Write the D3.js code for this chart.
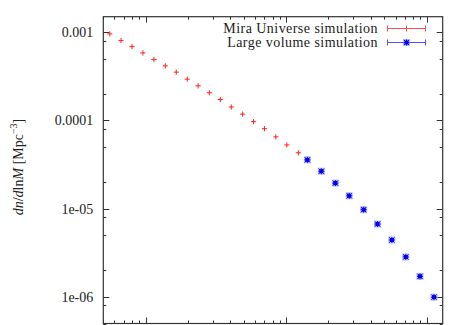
<!DOCTYPE html>
<html><head><meta charset="utf-8">
<script src="https://cdn.jsdelivr.net/npm/d3@7"></script>
<style>body{margin:0;background:#fff}svg{display:block}svg text{font-family:"Liberation Serif","DejaVu Serif",serif !important;fill:#222}</style>
</head><body>
<script>
// Mira Universe simulation (mass, dn/dlnM)
const miraMass = [5.56e12,6.68e12,8.0e12,9.57e12,1.146e13,1.38e13,1.652e13,1.977e13,2.366e13,2.84e13,3.40e13,4.07e13,4.90e13,5.86e13,7.01e13,8.45e13,1.012e14,1.222e14];
const miraDn   = [9.57e-4,8.04e-4,6.87e-4,5.83e-4,4.90e-4,4.16e-4,3.53e-4,2.94e-4,2.47e-4,2.06e-4,1.73e-4,1.42e-4,1.18e-4,9.69e-5,8.07e-5,6.52e-5,5.28e-5,4.30e-5];
// Large volume simulation
const largeMass = [1.416e14,1.78e14,2.24e14,2.81e14,3.56e14,4.47e14,5.65e14,7.10e14,8.96e14,1.127e15];
const largeDn   = [3.58e-5,2.66e-5,1.95e-5,1.40e-5,9.75e-6,6.70e-6,4.42e-6,2.84e-6,1.71e-6,9.95e-7];
const seriesNames = ["Mira Universe simulation","Large volume simulation"];
const yTickValues = [1e-3,1e-4,1e-5,1e-6];
const yTickLabels = ["0.001","0.0001","1e-05","1e-06"];
const xDomain = [5e12,1.3e15];
const yDomain = [1.5e-3,5e-7];

const W=464,H=325;
const L=103.3,R=442.7,T=16.7,B=323.5;
const svg=d3.select("body").append("svg").attr("width",W).attr("height",H);
const x=d3.scaleLog().domain(xDomain).range([L,R]);
const y=d3.scaleLog().domain(yDomain).range([T,B]);

// ticks
const xMajor=[],xMinor=[];
for(let e=12;e<=15;e++)for(let m=1;m<=9;m++){const v=m*Math.pow(10,e);if(v>=xDomain[0]&&v<=xDomain[1])(m===1?xMajor:xMinor).push(v);}
const yMinor=[];
for(let e=-7;e<=-3;e++)for(const m of [2,5,8]){const v=m*Math.pow(10,e);if(v<=yDomain[0]&&v>=yDomain[1])yMinor.push(v);}

const axStroke="#333";
const g=svg.append("g").attr("stroke",axStroke).attr("stroke-width",1);
function xt(vals,len){vals.forEach(v=>{const px=Math.round(x(v))+0.5;
  g.append("line").attr("x1",px).attr("x2",px).attr("y1",B).attr("y2",B-len);
  g.append("line").attr("x1",px).attr("x2",px).attr("y1",T).attr("y2",T+len);});}
function yt(vals,len){vals.forEach(v=>{const py=Math.round(y(v))+0.5;
  g.append("line").attr("x1",L).attr("x2",L+len).attr("y1",py).attr("y2",py);
  g.append("line").attr("x1",R).attr("x2",R-len).attr("y1",py).attr("y2",py);});}
xt(xMajor,6);xt(xMinor,3);yt(yTickValues,6);yt(yMinor,3);

// y axis labels via d3 axis (ticks hidden)
const yAxis=d3.axisLeft(y).tickValues(yTickValues).tickFormat((d,i)=>yTickLabels[i]).tickSize(0).tickPadding(10);
const ya=svg.append("g").attr("transform",`translate(${L},0)`).call(yAxis).attr("font-family",null);
ya.select(".domain").remove();
ya.selectAll("text").attr("font-size",14).style("font-family","'Liberation Serif', serif").attr("fill","#222");

// frame
svg.append("rect").attr("x",L).attr("y",T).attr("width",R-L).attr("height",B-T)
  .attr("fill","none").attr("stroke",axStroke).attr("stroke-width",1.2);

// Mira points: red plus
const red="#ff2020", blue="#1010ff";
const mira=svg.append("g").attr("stroke",red).attr("stroke-width",1);
miraMass.forEach((m,i)=>{const px=x(m),py=y(miraDn[i]);
  mira.append("line").attr("x1",px-2.6).attr("x2",px+2.6).attr("y1",py).attr("y2",py);
  mira.append("line").attr("x1",px).attr("x2",px).attr("y1",py-2.6).attr("y2",py+2.6);});

function star(sel,px,py){
  sel.append("rect").attr("x",px-3.5).attr("y",py-3.5).attr("width",7).attr("height",7).attr("fill","#b8b8ff").attr("stroke","none");
  const s=sel.append("g").attr("stroke",blue).attr("stroke-width",1);
  s.append("line").attr("x1",px-3).attr("x2",px+3).attr("y1",py).attr("y2",py);
  s.append("line").attr("x1",px).attr("x2",px).attr("y1",py-3).attr("y2",py+3);
  s.append("line").attr("x1",px-2.6).attr("x2",px+2.6).attr("y1",py-2.6).attr("y2",py+2.6);
  s.append("line").attr("x1",px-2.6).attr("x2",px+2.6).attr("y1",py+2.6).attr("y2",py-2.6);
  sel.append("rect").attr("x",px-2).attr("y",py-2).attr("width",4).attr("height",4).attr("fill","#0000e0");
}
const lg=svg.append("g");
largeMass.forEach((m,i)=>star(lg,x(m),y(largeDn[i])));

// legend
const legY=[28.5,42.5];
const legCol=["#ff5050","#5050ff"];
seriesNames.forEach((n,i)=>{
  svg.append("text").attr("x",378).attr("y",legY[i]+4.5).attr("text-anchor","end").attr("font-size",14).attr("letter-spacing",0.45).text(n);
  const gg=svg.append("g").attr("stroke",legCol[i]).attr("stroke-width",1);
  gg.append("line").attr("x1",387).attr("x2",426).attr("y1",legY[i]).attr("y2",legY[i]);
  gg.append("line").attr("x1",387.5).attr("x2",387.5).attr("y1",legY[i]-3).attr("y2",legY[i]+3);
  gg.append("line").attr("x1",425.5).attr("x2",425.5).attr("y1",legY[i]-3).attr("y2",legY[i]+3);
  if(i===0){gg.append("line").attr("x1",406.5).attr("x2",406.5).attr("y1",legY[i]-3).attr("y2",legY[i]+3);}
  else star(svg.append("g"),406.5,legY[i]);
});

// y label
const yl=svg.append("text").attr("transform","translate(23,167) rotate(-90)").attr("text-anchor","middle").attr("font-size",14);
yl.append("tspan").attr("font-style","italic").text("dn");
yl.append("tspan").text("/");
yl.append("tspan").attr("font-style","italic").text("d");
yl.append("tspan").text("ln");
yl.append("tspan").attr("font-style","italic").text("M");
yl.append("tspan").text(" [Mpc");
yl.append("tspan").attr("dy",-6).attr("font-size",10).text("−3");
yl.append("tspan").attr("dy",6).text("]");
</script>
</body></html>
